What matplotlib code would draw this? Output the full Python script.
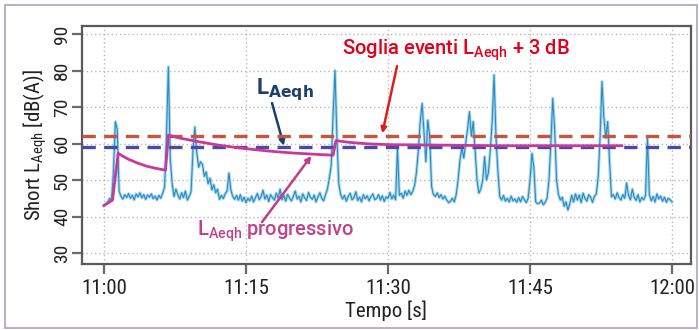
import matplotlib
matplotlib.use("Agg")
import matplotlib.pyplot as plt
import numpy as np
from matplotlib import font_manager as fm

# ---------------- data (minutes after 11:00, dB(A)) ----------------
t_step = 0.2
short_leq = [
    43.0, 43.5, 44.0, 45.0, 44.5,
    52.0, 66.0, 64.0, 47.0, 45.5,
    44.8, 46.0, 45.2, 46.3, 45.0,
    45.8, 44.6, 46.2, 45.4, 46.5,
    45.1, 46.0, 44.7, 45.9, 45.3,
    46.2, 44.9, 45.6, 44.5, 45.8,
    45.0, 46.4, 48.0, 62.0, 81.0,
    56.0, 49.0, 45.5, 47.5, 46.0,
    44.8, 46.5, 45.2, 47.0, 44.5,
    45.5, 46.8, 58.0, 64.5, 57.5,
    53.5, 55.0, 54.3, 51.0, 52.2,
    49.0, 50.5, 47.3, 48.7, 46.5,
    47.5, 44.7, 45.8, 44.9, 46.2,
    47.0, 51.9, 47.3, 45.5, 44.7,
    45.8, 44.5, 46.0, 44.2, 45.3,
    43.8, 45.0, 44.3, 45.6, 44.0,
    45.2, 46.3, 44.6, 45.5, 47.2,
    44.8, 45.9, 44.1, 46.0, 45.2,
    44.5, 46.4, 45.0, 47.5, 44.6,
    45.8, 44.2, 46.1, 45.0, 44.3,
    45.5, 47.0, 44.8, 45.6, 44.0,
    46.2, 45.1, 44.4, 46.6, 45.3,
    44.7, 45.9, 44.0, 45.4, 46.5,
    45.0, 44.3, 46.0, 47.5, 50.5,
    54.0, 68.0, 80.0, 62.0, 49.0,
    46.0, 44.8, 45.8, 44.2, 45.5,
    46.4, 44.6, 45.2, 46.8, 44.4,
    45.3, 44.0, 46.0, 44.9, 45.7,
    44.3, 45.5, 46.2, 44.6, 45.0,
    46.0, 44.5, 45.7, 44.1, 45.4,
    45.0, 46.6, 44.8, 45.9, 44.6,
    59.0, 45.8, 46.4, 45.0, 47.0,
    45.8, 47.2, 46.0, 46.8, 48.5,
    52.0, 58.0, 66.0, 71.0, 63.0,
    55.0, 66.4, 62.0, 48.2, 46.0,
    45.5, 46.5, 45.2, 46.0, 44.8,
    45.6, 44.5, 43.8, 44.2, 45.0,
    44.0, 46.0, 50.0, 55.5, 58.8,
    56.0, 60.0, 64.0, 68.7, 62.0,
    66.0, 58.0, 50.0, 46.4, 47.5,
    50.0, 56.4, 50.0, 52.0, 58.0,
    66.0, 78.8, 62.0, 52.7, 45.4,
    44.5, 45.8, 44.2, 45.0, 44.0,
    45.6, 44.3, 44.8, 43.9, 45.2,
    44.0, 45.5, 44.6, 43.8, 45.0,
    50.0, 57.3, 53.6, 44.0, 43.5,
    43.7, 44.5, 43.2, 43.9, 45.0,
    50.0, 60.0, 72.4, 64.0, 50.0,
    46.0, 44.5, 45.3, 42.8, 44.0,
    41.8, 43.5, 45.8, 44.0, 46.2,
    44.5, 45.9, 43.8, 46.4, 45.0,
    44.2, 46.0, 45.3, 43.9, 45.5,
    46.2, 50.9, 62.0, 77.0, 67.0,
    61.5, 66.0, 55.0, 45.4, 46.0,
    44.8, 46.5, 45.2, 44.5, 46.0,
    45.0, 49.2, 45.8, 44.6, 47.5,
    45.3, 44.4, 46.0, 44.0, 45.2,
    44.6, 45.8, 61.9, 46.0, 44.3,
    45.5, 44.0, 46.2, 44.8, 45.6,
    44.2, 45.3, 43.9, 45.0, 44.6,
    44.0,
]
t_short = np.arange(len(short_leq)) * t_step

prog_t = [0.0, 0.9, 1.5, 2.5, 3.5, 4.5, 5.5, 6.5, 6.8, 8.0, 10.0, 12.0, 14.0,
          16.0, 18.0, 20.0, 22.0, 24.2, 24.5, 26.0, 28.0, 30.0, 34.0, 38.0,
          42.0, 46.0, 50.0, 54.7]
prog_leq = [43.0, 44.5, 57.3, 55.8, 54.7, 53.8, 53.2, 52.7, 62.3, 61.5, 60.5,
            59.6, 58.9, 58.3, 57.8, 57.4, 57.1, 56.8, 60.8, 60.3, 59.9, 59.7,
            59.6, 59.5, 59.4, 59.4, 59.4, 59.4]

laeqh = 59.1
threshold = laeqh + 3.0

x_ticks = [0, 15, 30, 45, 60]
x_labels = ["11:00", "11:15", "11:30", "11:45", "12:00"]
y_ticks = [30, 40, 50, 60, 70, 80, 90]

# ---------------- fonts ----------------
entries = fm.fontManager.ttflist
names = {f.name for f in entries}
cond_family, cond_stretch = None, "normal"
for cand in ["Liberation Sans Narrow", "Roboto Condensed", "Noto Sans Condensed",
             "DejaVu Sans Condensed", "Open Sans Condensed", "Arial Narrow",
             "Noto Sans Display Condensed"]:
    if cand in names:
        cond_family = cand
        break
if cond_family is None:
    for f in entries:
        if ("Condensed" in f.name or "Narrow" in f.name) and "Bold" not in f.name \
                and "Light" not in f.name and "Black" not in f.name:
            cond_family = f.name
            break
if cond_family is None:
    for pref in ["DejaVu Sans", "Noto Sans", "Roboto", "Open Sans"]:
        hits = [f for f in entries if f.name == pref and f.stretch in
                ("condensed", "semi-condensed", 300, 400, 500) and f.weight in (400, "normal", "regular")]
        if hits:
            cond_family, cond_stretch = pref, hits[0].stretch
            break
if cond_family is None:
    cond_family = "Roboto" if "Roboto" in names else "DejaVu Sans"

ann_font = "Roboto" if "Roboto" in names else "DejaVu Sans"
plt.rcParams["mathtext.default"] = "regular"

cfont = dict(fontfamily=cond_family, fontstretch=cond_stretch)

fig = plt.figure(figsize=(6.99, 3.30), dpi=100)
ax = fig.add_axes([82 / 699, 1 - 264 / 330, (691 - 82) / 699, (264 - 26) / 330])

# outer frame
fig.patches.append(plt.Rectangle((5 / 699, 2 / 330), 692 / 699, 323 / 330,
                                 transform=fig.transFigure, fill=False,
                                 edgecolor="#aaa2be", lw=1.2))

ax.plot(t_short, short_leq, color="#a9d6ec", lw=2.2, zorder=2)
ax.plot(t_short, short_leq, color="#2b8cc0", lw=0.8, zorder=3)

ax.axhline(threshold, color="#c5553f", lw=2.4, dashes=(4, 2.5), zorder=4)
ax.axhline(laeqh, color="#4b4aa3", lw=2.4, dashes=(4, 2.5), zorder=4)
ax.plot(prog_t, prog_leq, color="#c8399a", lw=2.0, zorder=5)

ax.set_xlim(-2.32, 62.0)
ax.set_ylim(27.0, 92.2)
ax.set_xticks(x_ticks)
ax.set_xticklabels(x_labels)
ax.set_yticks(y_ticks)
ax.grid(True, ls=(0, (1, 2)), color="#b8b8b8", lw=1.0)
ax.set_axisbelow(True)

for s in ax.spines.values():
    s.set_color("#5a5a5a")
    s.set_linewidth(1.6)
ax.tick_params(axis="both", direction="out", length=7, width=1.6, color="#6a6a6a",
               labelcolor="#222222")
ax.tick_params(axis="y", pad=1)
for lab in ax.get_xticklabels():
    lab.set_fontfamily(cond_family)
    lab.set_fontstretch(cond_stretch)
    lab.set_fontsize(15)
for lab in ax.get_yticklabels():
    lab.set_fontfamily(cond_family)
    lab.set_fontstretch(cond_stretch)
    lab.set_fontsize(14)
    lab.set_rotation(90)
    lab.set_va("center")

ax.set_xlabel("Tempo [s]", fontsize=15, color="#222222", labelpad=2, **cfont)
ax.set_ylabel(r"Short L$_{Aeqh}$ [dB(A)]", fontsize=15,
              color="#222222", labelpad=3, **cfont)

# annotation texts
ax.text(37.2, 85.6, r"Soglia eventi L$_{Aeqh}$ + 3 dB", ha="center", va="center",
        color="#e2001a", fontsize=14.5, fontfamily=ann_font, fontweight="medium")
ax.text(19.1, 74.7, r"L$_{\mathbf{Aeqh}}$", ha="center", va="center",
        color="#1c3f6e", fontsize=16, fontfamily=ann_font, fontweight="bold")
ax.text(18.1, 36.0, r"L$_{Aeqh}$ progressivo", ha="center", va="center",
        color="#c0428a", fontsize=14.5, fontfamily=ann_font, fontweight="medium")

# arrows
arrow_specs = [((30.95, 81.2), (29.4, 62.8), "#d8201e"),
               ((17.75, 71.1), (19.0, 59.4), "#1c3f6e"),
               ((16.7, 38.5), (21.9, 56.6), "#c23b8f")]
for tail, tip, col in arrow_specs:
    ax.annotate("", xy=tip, xytext=tail,
                arrowprops=dict(arrowstyle="-|>", color=col, lw=1.8,
                                mutation_scale=8, shrinkA=0, shrinkB=0))

fig.savefig("out.png", dpi=100)
